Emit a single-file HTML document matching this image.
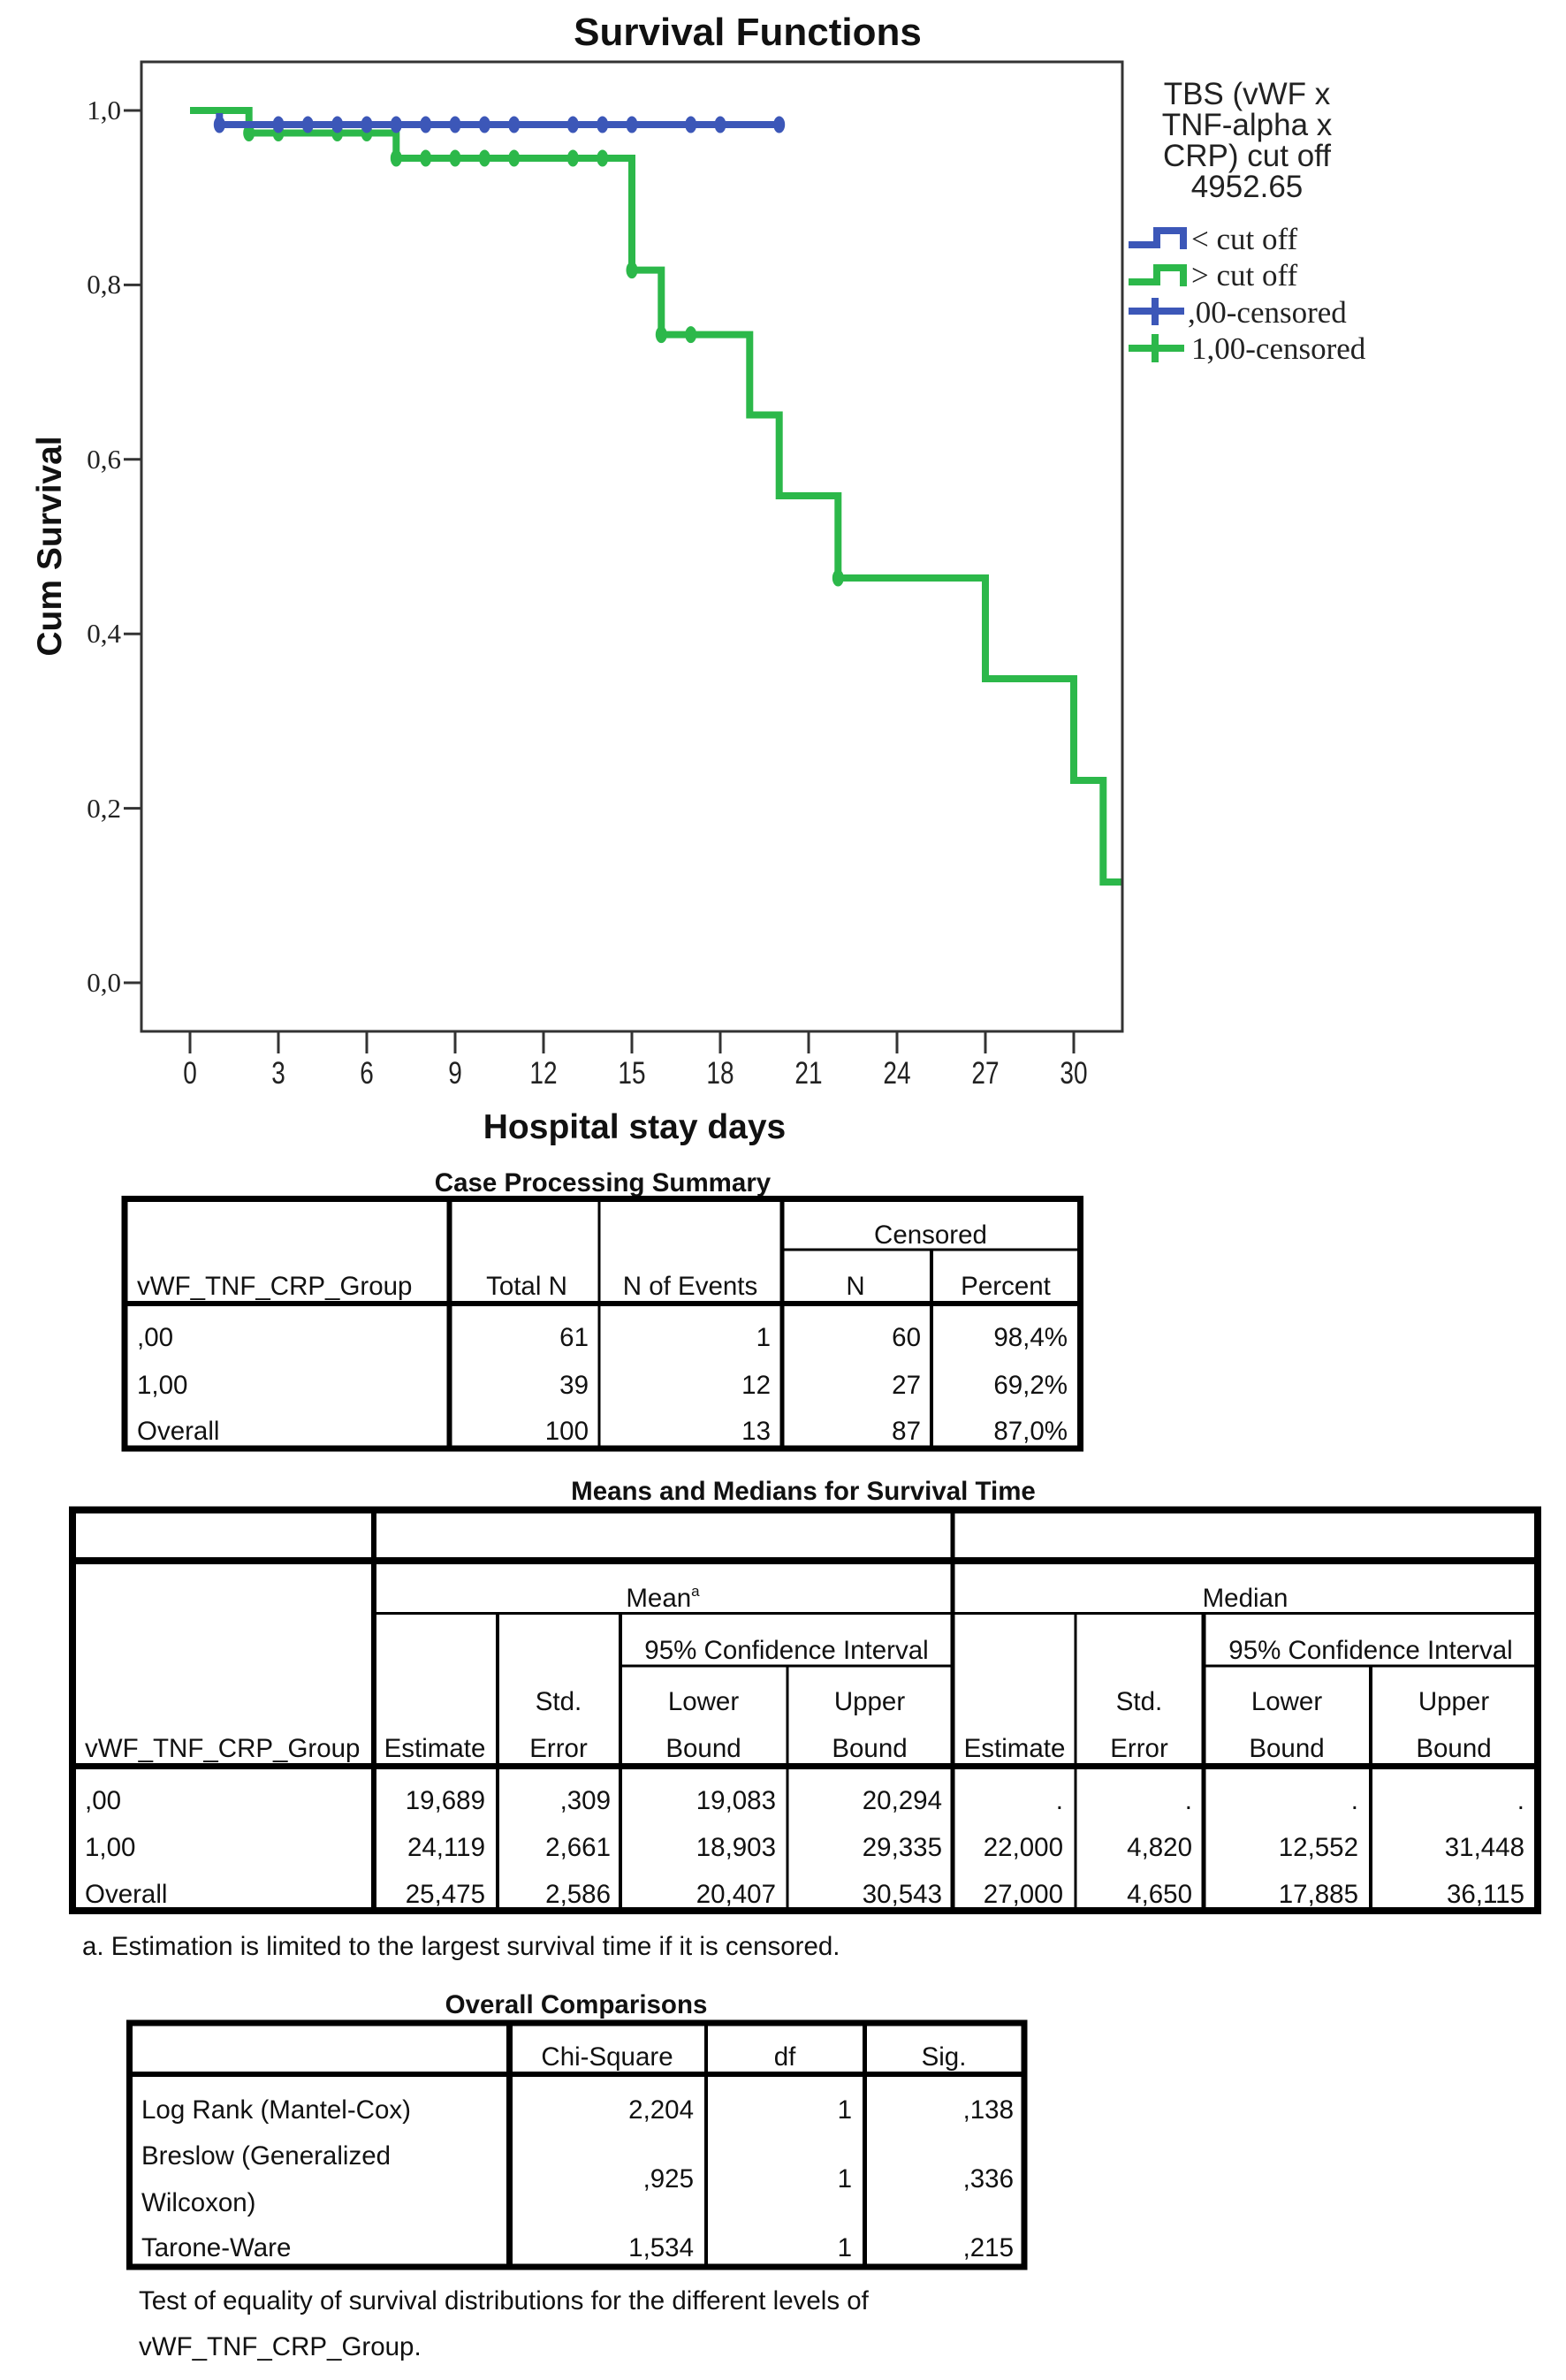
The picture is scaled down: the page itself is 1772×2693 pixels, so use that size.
<!DOCTYPE html>
<html>
<head>
<meta charset="utf-8">
<style>
html,body{margin:0;padding:0;background:#fff;}
svg{display:block;}
.t{font-family:"Liberation Sans",Arial,sans-serif;font-size:29.5px;fill:#111;}
.b{font-family:"Liberation Sans",Arial,sans-serif;font-weight:bold;font-size:29.5px;fill:#111;}
.ser{font-family:"Liberation Serif","DejaVu Serif",serif;fill:#222;}
</style>
</head>
<body>
<svg width="1772" height="2693" viewBox="0 0 1772 2693" xmlns="http://www.w3.org/2000/svg">
<rect x="0" y="0" width="1772" height="2693" fill="#fff"/>

<!-- ================= CHART ================= -->
<text x="846" y="51" text-anchor="middle" font-family="Liberation Sans, Arial, sans-serif" font-weight="bold" font-size="44" fill="#111">Survival Functions</text>

<!-- frame -->
<rect x="160" y="70" width="1110" height="1097" fill="none" stroke="#333" stroke-width="3"/>

<!-- y ticks -->
<g stroke="#333" stroke-width="3">
<line x1="140" y1="125" x2="160" y2="125"/>
<line x1="140" y1="322.4" x2="160" y2="322.4"/>
<line x1="140" y1="519.8" x2="160" y2="519.8"/>
<line x1="140" y1="717.2" x2="160" y2="717.2"/>
<line x1="140" y1="914.6" x2="160" y2="914.6"/>
<line x1="140" y1="1112" x2="160" y2="1112"/>
</g>
<g class="ser" font-size="31" text-anchor="end">
<text x="137" y="135">1,0</text>
<text x="137" y="332">0,8</text>
<text x="137" y="530">0,6</text>
<text x="137" y="727">0,4</text>
<text x="137" y="925">0,2</text>
<text x="137" y="1122">0,0</text>
</g>

<!-- x ticks -->
<g stroke="#333" stroke-width="3">
<line x1="215" y1="1167" x2="215" y2="1192"/>
<line x1="315" y1="1167" x2="315" y2="1192"/>
<line x1="415" y1="1167" x2="415" y2="1192"/>
<line x1="515" y1="1167" x2="515" y2="1192"/>
<line x1="615" y1="1167" x2="615" y2="1192"/>
<line x1="715" y1="1167" x2="715" y2="1192"/>
<line x1="815" y1="1167" x2="815" y2="1192"/>
<line x1="915" y1="1167" x2="915" y2="1192"/>
<line x1="1015" y1="1167" x2="1015" y2="1192"/>
<line x1="1115" y1="1167" x2="1115" y2="1192"/>
<line x1="1215" y1="1167" x2="1215" y2="1192"/>
</g>
<g font-family="Liberation Sans, Arial, sans-serif" font-size="35" fill="#222" text-anchor="middle">
<text transform="translate(215,1226) scale(0.8,1)">0</text>
<text transform="translate(315,1226) scale(0.8,1)">3</text>
<text transform="translate(415,1226) scale(0.8,1)">6</text>
<text transform="translate(515,1226) scale(0.8,1)">9</text>
<text transform="translate(615,1226) scale(0.8,1)">12</text>
<text transform="translate(715,1226) scale(0.8,1)">15</text>
<text transform="translate(815,1226) scale(0.8,1)">18</text>
<text transform="translate(915,1226) scale(0.8,1)">21</text>
<text transform="translate(1015,1226) scale(0.8,1)">24</text>
<text transform="translate(1115,1226) scale(0.8,1)">27</text>
<text transform="translate(1215,1226) scale(0.8,1)">30</text>
</g>

<!-- axis titles -->
<text x="718" y="1288" text-anchor="middle" font-family="Liberation Sans, Arial, sans-serif" font-weight="bold" font-size="39" fill="#111">Hospital stay days</text>
<text transform="translate(69,618) rotate(-90)" text-anchor="middle" font-family="Liberation Sans, Arial, sans-serif" font-weight="bold" font-size="39" fill="#111">Cum Survival</text>

<!-- green curve -->
<path d="M215,125 H281.7 V150.5 H448.3 V179 H715 V305.6 H748.3 V378.6 H848.3 V469.5 H881.7 V561 H948.3 V654 H1115 V768 H1215 V883 H1248.3 V998 H1268.5" fill="none" stroke="#2cb84a" stroke-width="8" stroke-linejoin="miter"/>
<!-- green censor marks -->
<g fill="#2cb84a">
<ellipse cx="281.7" cy="150.5" rx="6.5" ry="9.5"/>
<ellipse cx="315" cy="150.5" rx="6.5" ry="9.5"/>
<ellipse cx="381.7" cy="150.5" rx="6.5" ry="9.5"/>
<ellipse cx="415" cy="150.5" rx="6.5" ry="9.5"/>
<ellipse cx="448.3" cy="179" rx="6.5" ry="9.5"/>
<ellipse cx="481.7" cy="179" rx="6.5" ry="9.5"/>
<ellipse cx="515" cy="179" rx="6.5" ry="9.5"/>
<ellipse cx="548.3" cy="179" rx="6.5" ry="9.5"/>
<ellipse cx="581.7" cy="179" rx="6.5" ry="9.5"/>
<ellipse cx="648.3" cy="179" rx="6.5" ry="9.5"/>
<ellipse cx="681.7" cy="179" rx="6.5" ry="9.5"/>
<ellipse cx="715" cy="305.6" rx="6.5" ry="9.5"/>
<ellipse cx="748.3" cy="378.6" rx="6.5" ry="9.5"/>
<ellipse cx="781.7" cy="378.6" rx="6.5" ry="9.5"/>
<ellipse cx="948.3" cy="654" rx="6.5" ry="9.5"/>
</g>

<!-- blue curve -->
<path d="M248.3,128 V141 H881.7" fill="none" stroke="#3c57b8" stroke-width="8"/>
<g fill="#3c57b8">
<ellipse cx="248.3" cy="141" rx="6.5" ry="9.5"/>
<ellipse cx="315" cy="141" rx="6.5" ry="9.5"/>
<ellipse cx="348.3" cy="141" rx="6.5" ry="9.5"/>
<ellipse cx="381.7" cy="141" rx="6.5" ry="9.5"/>
<ellipse cx="415" cy="141" rx="6.5" ry="9.5"/>
<ellipse cx="448.3" cy="141" rx="6.5" ry="9.5"/>
<ellipse cx="481.7" cy="141" rx="6.5" ry="9.5"/>
<ellipse cx="515" cy="141" rx="6.5" ry="9.5"/>
<ellipse cx="548.3" cy="141" rx="6.5" ry="9.5"/>
<ellipse cx="581.7" cy="141" rx="6.5" ry="9.5"/>
<ellipse cx="648.3" cy="141" rx="6.5" ry="9.5"/>
<ellipse cx="681.7" cy="141" rx="6.5" ry="9.5"/>
<ellipse cx="715" cy="141" rx="6.5" ry="9.5"/>
<ellipse cx="781.7" cy="141" rx="6.5" ry="9.5"/>
<ellipse cx="815" cy="141" rx="6.5" ry="9.5"/>
<ellipse cx="881.7" cy="141" rx="6.5" ry="9.5"/>
</g>

<!-- legend -->
<g font-family="Liberation Sans, Arial, sans-serif" font-size="35" fill="#222" text-anchor="middle">
<text x="1411" y="118">TBS (vWF x</text>
<text x="1411" y="153">TNF-alpha x</text>
<text x="1411" y="188">CRP) cut off</text>
<text x="1411" y="223">4952.65</text>
</g>
<polyline points="1277,277 1309,277 1309,261 1339,261 1339,282" fill="none" stroke="#3c57b8" stroke-width="8"/>
<polyline points="1277,319 1309,319 1309,303 1339,303 1339,324" fill="none" stroke="#2cb84a" stroke-width="8"/>
<line x1="1277" y1="352" x2="1340" y2="352" stroke="#3c57b8" stroke-width="8"/>
<line x1="1307" y1="337" x2="1307" y2="368" stroke="#3c57b8" stroke-width="8"/>
<line x1="1277" y1="394" x2="1340" y2="394" stroke="#2cb84a" stroke-width="8"/>
<line x1="1307" y1="378" x2="1307" y2="410" stroke="#2cb84a" stroke-width="8"/>
<g class="ser" font-size="35">
<text x="1348" y="282">&lt; cut off</text>
<text x="1348" y="323">&gt; cut off</text>
<text x="1344" y="365">,00-censored</text>
<text x="1348" y="406">1,00-censored</text>
</g>

<!-- ================= CASE PROCESSING SUMMARY ================= -->
<text class="b" x="682" y="1348" text-anchor="middle">Case Processing Summary</text>
<g stroke="#000" fill="none">
<rect x="141" y="1356.5" width="1081.5" height="282.5" stroke-width="7"/>
<line x1="508.5" y1="1356" x2="508.5" y2="1640" stroke-width="6"/>
<line x1="678" y1="1356" x2="678" y2="1640" stroke-width="3"/>
<line x1="885" y1="1356" x2="885" y2="1640" stroke-width="5"/>
<line x1="1054" y1="1414" x2="1054" y2="1640" stroke-width="4"/>
<line x1="885" y1="1414" x2="1222" y2="1414" stroke-width="3"/>
<line x1="141" y1="1475" x2="1222" y2="1475" stroke-width="6"/>
</g>
<g class="t">
<text x="155" y="1465">vWF_TNF_CRP_Group</text>
<text x="596" y="1465" text-anchor="middle">Total N</text>
<text x="781" y="1465" text-anchor="middle">N of Events</text>
<text x="1053" y="1407" text-anchor="middle">Censored</text>
<text x="968" y="1465" text-anchor="middle">N</text>
<text x="1138" y="1465" text-anchor="middle">Percent</text>
<text x="155" y="1523">,00</text>
<text x="155" y="1577">1,00</text>
<text x="155" y="1629">Overall</text>
</g>
<g class="t" text-anchor="end">
<text x="666" y="1523">61</text><text x="872" y="1523">1</text><text x="1042" y="1523">60</text><text x="1208" y="1523">98,4%</text>
<text x="666" y="1577">39</text><text x="872" y="1577">12</text><text x="1042" y="1577">27</text><text x="1208" y="1577">69,2%</text>
<text x="666" y="1629">100</text><text x="872" y="1629">13</text><text x="1042" y="1629">87</text><text x="1208" y="1629">87,0%</text>
</g>

<!-- ================= MEANS AND MEDIANS ================= -->
<text class="b" x="909" y="1697" text-anchor="middle">Means and Medians for Survival Time</text>
<g stroke="#000" fill="none">
<rect x="82" y="1708.5" width="1658" height="453.5" stroke-width="8"/>
<line x1="82" y1="1766" x2="1740" y2="1766" stroke-width="8"/>
<line x1="423" y1="1825.5" x2="1740" y2="1825.5" stroke-width="3"/>
<line x1="702" y1="1885" x2="1078" y2="1885" stroke-width="3"/>
<line x1="1362" y1="1885" x2="1740" y2="1885" stroke-width="3"/>
<line x1="82" y1="1998.5" x2="1740" y2="1998.5" stroke-width="7"/>
<line x1="423" y1="1708" x2="423" y2="2162" stroke-width="6"/>
<line x1="1078" y1="1708" x2="1078" y2="2162" stroke-width="5"/>
<line x1="563" y1="1825" x2="563" y2="2162" stroke-width="4"/>
<line x1="702" y1="1825" x2="702" y2="2162" stroke-width="4"/>
<line x1="891" y1="1885" x2="891" y2="2162" stroke-width="3"/>
<line x1="1217" y1="1825" x2="1217" y2="2162" stroke-width="3"/>
<line x1="1362" y1="1825" x2="1362" y2="2162" stroke-width="5"/>
<line x1="1551" y1="1885" x2="1551" y2="2162" stroke-width="4"/>
</g>
<g class="t" text-anchor="middle">
<text x="750" y="1818">Mean<tspan font-size="17" dy="-12">a</tspan></text>
<text x="1409" y="1818">Median</text>
<text x="890" y="1877">95% Confidence Interval</text>
<text x="1551" y="1877">95% Confidence Interval</text>
<text x="632" y="1935">Std.</text>
<text x="632" y="1988">Error</text>
<text x="796" y="1935">Lower</text>
<text x="796" y="1988">Bound</text>
<text x="984" y="1935">Upper</text>
<text x="984" y="1988">Bound</text>
<text x="492" y="1988">Estimate</text>
<text x="1148" y="1988">Estimate</text>
<text x="1289" y="1935">Std.</text>
<text x="1289" y="1988">Error</text>
<text x="1456" y="1935">Lower</text>
<text x="1456" y="1988">Bound</text>
<text x="1645" y="1935">Upper</text>
<text x="1645" y="1988">Bound</text>
</g>
<g class="t">
<text x="96" y="1988">vWF_TNF_CRP_Group</text>
<text x="96" y="2047">,00</text>
<text x="96" y="2100">1,00</text>
<text x="96" y="2153">Overall</text>
</g>
<g class="t" text-anchor="end">
<text x="549" y="2047">19,689</text><text x="691" y="2047">,309</text><text x="878" y="2047">19,083</text><text x="1066" y="2047">20,294</text>
<text x="1203" y="2047">.</text><text x="1349" y="2047">.</text><text x="1537" y="2047">.</text><text x="1725" y="2047">.</text>
<text x="549" y="2100">24,119</text><text x="691" y="2100">2,661</text><text x="878" y="2100">18,903</text><text x="1066" y="2100">29,335</text>
<text x="1203" y="2100">22,000</text><text x="1349" y="2100">4,820</text><text x="1537" y="2100">12,552</text><text x="1725" y="2100">31,448</text>
<text x="549" y="2153">25,475</text><text x="691" y="2153">2,586</text><text x="878" y="2153">20,407</text><text x="1066" y="2153">30,543</text>
<text x="1203" y="2153">27,000</text><text x="1349" y="2153">4,650</text><text x="1537" y="2153">17,885</text><text x="1725" y="2153">36,115</text>
</g>
<text class="t" x="93" y="2212">a. Estimation is limited to the largest survival time if it is censored.</text>

<!-- ================= OVERALL COMPARISONS ================= -->
<text class="b" x="652" y="2278" text-anchor="middle">Overall Comparisons</text>
<g stroke="#000" fill="none">
<rect x="146.5" y="2289" width="1012.5" height="276" stroke-width="7"/>
<line x1="576.5" y1="2289" x2="576.5" y2="2565" stroke-width="7"/>
<line x1="799" y1="2289" x2="799" y2="2565" stroke-width="4"/>
<line x1="978.5" y1="2289" x2="978.5" y2="2565" stroke-width="5"/>
<line x1="146" y1="2347" x2="1159" y2="2347" stroke-width="6"/>
</g>
<g class="t" text-anchor="middle">
<text x="687" y="2337">Chi-Square</text>
<text x="888" y="2337">df</text>
<text x="1068" y="2337">Sig.</text>
</g>
<g class="t">
<text x="160" y="2397">Log Rank (Mantel-Cox)</text>
<text x="160" y="2449">Breslow (Generalized</text>
<text x="160" y="2502">Wilcoxon)</text>
<text x="160" y="2553">Tarone-Ware</text>
</g>
<g class="t" text-anchor="end">
<text x="785" y="2397">2,204</text><text x="964" y="2397">1</text><text x="1147" y="2397">,138</text>
<text x="785" y="2475">,925</text><text x="964" y="2475">1</text><text x="1147" y="2475">,336</text>
<text x="785" y="2553">1,534</text><text x="964" y="2553">1</text><text x="1147" y="2553">,215</text>
</g>
<text class="t" x="157" y="2613">Test of equality of survival distributions for the different levels of</text>
<text class="t" x="157" y="2665">vWF_TNF_CRP_Group.</text>
</svg>
</body>
</html>
